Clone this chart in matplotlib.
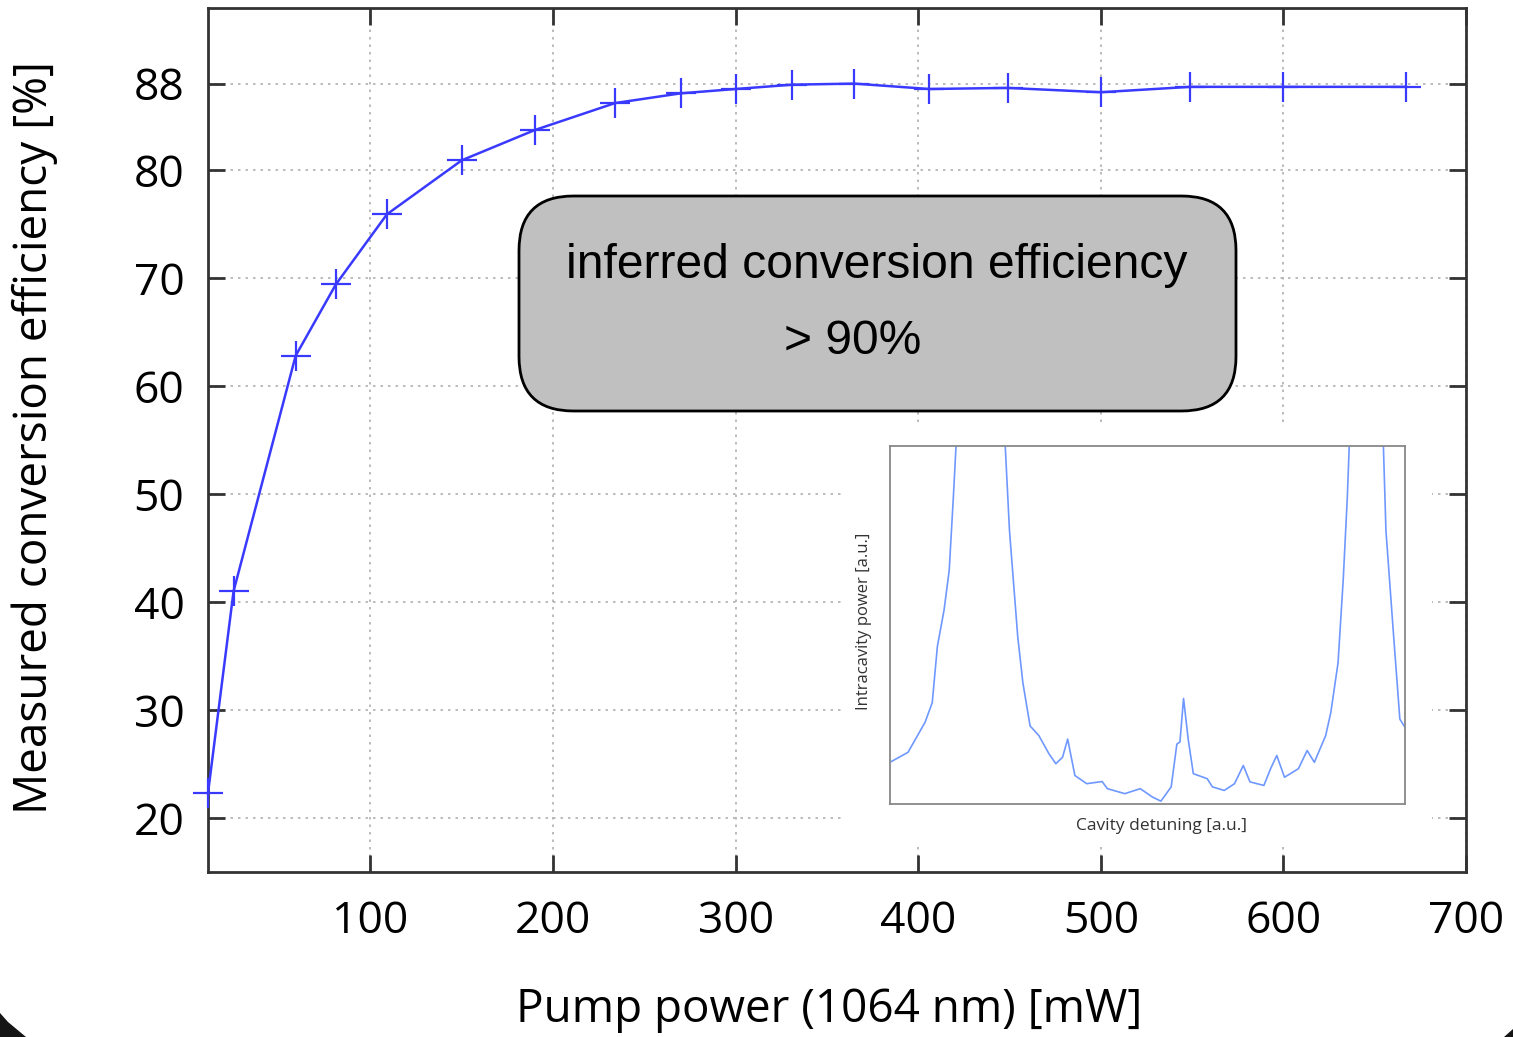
import matplotlib
matplotlib.use("Agg")
import matplotlib.pyplot as plt
from matplotlib.patches import FancyBboxPatch, Polygon

# main measurement: pump power [mW] vs conversion efficiency [%]
pump_power = [11, 25, 59, 81, 109, 150, 190, 234, 270, 300, 331, 365,
              406, 449, 500, 549, 600, 667]
efficiency = [22.3, 41.0, 62.8, 69.4, 75.9, 80.9, 83.7, 86.2, 87.1, 87.5,
              87.9, 88.0, 87.5, 87.6, 87.2, 87.7, 87.7, 87.7]

x_ticks = [100, 200, 300, 400, 500, 600, 700]
y_ticks = [20, 30, 40, 50, 60, 70, 80, 88]

# inset: cavity scan (normalised detuning / power)
detuning = [0.0, 0.035, 0.068, 0.082, 0.092, 0.105, 0.115, 0.123, 0.130,
            0.222, 0.232, 0.248, 0.258, 0.272, 0.289, 0.309, 0.322, 0.335,
            0.345, 0.359, 0.382, 0.412, 0.422, 0.456, 0.486, 0.509, 0.526,
            0.546, 0.557, 0.563, 0.570, 0.579, 0.589, 0.616, 0.626, 0.649,
            0.669, 0.686, 0.699, 0.726, 0.739, 0.751, 0.766, 0.793, 0.810,
            0.824, 0.846, 0.856, 0.870, 0.880, 0.888, 0.893, 0.957, 0.963,
            0.977, 0.990, 1.0]
cavity_power = [0.113, 0.141, 0.225, 0.280, 0.438, 0.540, 0.652, 0.856, 1.05,
                1.05, 0.763, 0.466, 0.336, 0.215, 0.188, 0.136, 0.109, 0.127,
                0.178, 0.076, 0.053, 0.059, 0.039, 0.025, 0.039, 0.016, 0.004,
                0.044, 0.164, 0.170, 0.292, 0.178, 0.081, 0.067, 0.044, 0.034,
                0.053, 0.104, 0.058, 0.048, 0.095, 0.132, 0.071, 0.095, 0.146,
                0.113, 0.188, 0.253, 0.392, 0.624, 0.856, 1.05, 1.05, 0.763,
                0.485, 0.234, 0.211]

W, H = 1513, 1037
fig = plt.figure(figsize=(W / 100, H / 100), dpi=100)


def px_rect(x0, y0, x1, y1):
    return [x0 / W, 1 - y1 / H, (x1 - x0) / W, (y1 - y0) / H]


ax = fig.add_axes(px_rect(208, 8, 1466, 872))
ax.plot(pump_power, efficiency, color="#3a3aff", lw=1.8, marker="+",
        markersize=21, mew=1.6, clip_on=False, zorder=3)
ax.set_xlim(11, 700)
ax.set_ylim(15, 95)
ax.set_xticks(x_ticks)
ax.set_yticks(y_ticks)
ax.grid(True, color="#b0b0b0", linestyle=(0, (1.5, 3)), lw=1.2)
ax.tick_params(direction="in", length=12, width=2, color="#333333",
               top=True, right=True, labelsize=32, pad=20)
for lab in ax.get_xticklabels() + ax.get_yticklabels():
    lab.set_fontfamily("Open Sans")
ax.tick_params(axis="y", pad=17)
for s in ax.spines.values():
    s.set_linewidth(2)
    s.set_color("#333333")

fig.text(829 / W, 1 - 1010 / H, "Pump power (1064 nm) [mW]", fontsize=33,
         family="Open Sans", ha="center", va="center")
fig.text(35 / W, 1 - 438 / H, "Measured conversion efficiency [%]", fontsize=33,
         family="Open Sans", ha="center", va="center", rotation=90)

# text box
box = FancyBboxPatch((519 / W, 1 - 411 / H), (1236 - 519) / W, (411 - 196) / H,
                     boxstyle="round,pad=0,rounding_size=0.036",
                     transform=fig.transFigure, facecolor="#c0c0c0",
                     edgecolor="black", lw=2, zorder=5, mutation_aspect=W / H)
ax.add_artist(box)
box.set_clip_on(False)
fig.text(877 / W, 1 - 265 / H, "inferred conversion efficiency", fontsize=34.6,
         family="Liberation Sans", ha="center", va="center", zorder=6)
fig.text(853 / W, 1 - 341 / H, "> 90%", fontsize=34.6,
         family="Liberation Sans", ha="center", va="center", zorder=6)

# white backing behind inset
bg = fig.add_axes(px_rect(843, 425, 1432, 843))
bg.set_facecolor("white")
bg.set_xticks([])
bg.set_yticks([])
for s in bg.spines.values():
    s.set_visible(False)

ins = fig.add_axes(px_rect(890, 446, 1405, 804))
ins.plot(detuning, cavity_power, color="#6f98ff", lw=1.2)
ins.set_xlim(0, 1)
ins.set_ylim(-0.004, 1.0)
ins.set_xticks([])
ins.set_yticks([])
for s in ins.spines.values():
    s.set_color("#888888")
    s.set_linewidth(1.3)
fig.text(1162 / W, 1 - 826 / H, "Cavity detuning [a.u.]", fontsize=12.5,
         family="Open Sans", color="#333333", ha="center", va="center")
fig.text(864 / W, 1 - 621 / H, "Intracavity power [a.u.]", fontsize=12,
         family="Open Sans", color="#333333", ha="center", va="center",
         rotation=90)

# slide corners
fig.patches.append(Polygon([(0, 0), (0, 1 - 1013 / H), (8 / W, 1 - 1022 / H),
                            (26 / W, 0)], closed=True, transform=fig.transFigure,
                           facecolor="#151515", edgecolor="none"))
fig.patches.append(Polygon([(1, 0), (1, 1 - 1029 / H), (1504 / W, 0)],
                           closed=True, transform=fig.transFigure,
                           facecolor="#151515", edgecolor="none"))

fig.savefig("out.png", dpi=100)
